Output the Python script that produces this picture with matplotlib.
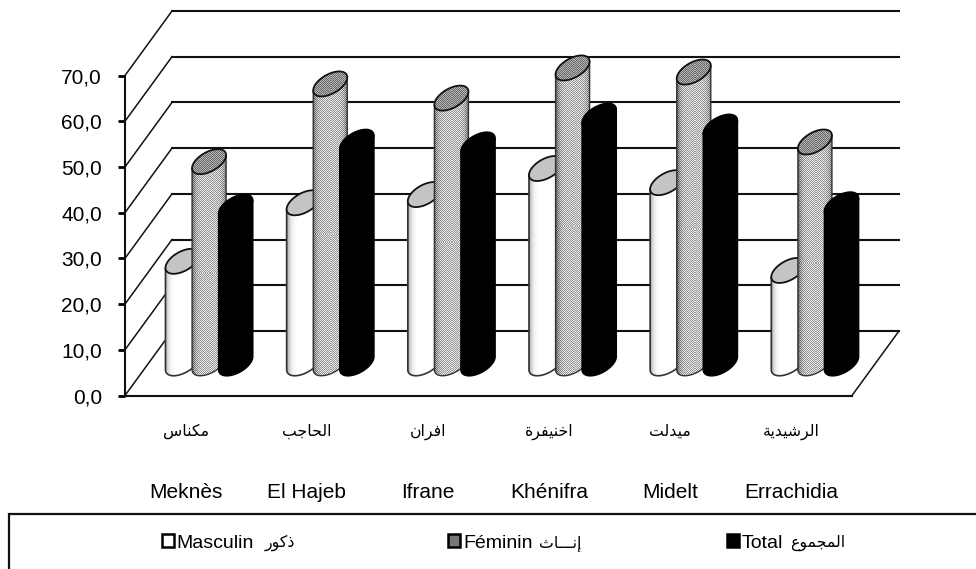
import numpy as np
import matplotlib
matplotlib.use('Agg')
import matplotlib.pyplot as plt
from matplotlib.patches import Patch, PathPatch, Rectangle
from matplotlib.path import Path

cities_fr = ['Meknès', 'El Hajeb', 'Ifrane', 'Khénifra', 'Midelt', 'Errachidia']
cities_ar = ['مكناس', 'الحاجب', 'افران', 'اخنيفرة', 'ميدلت', 'الرشيدية']
masculin = [22.3, 35.1, 36.9, 42.6, 39.5, 20.3]
feminin = [44.1, 61.1, 58.0, 64.6, 63.7, 48.4]
total = [34.2, 48.4, 47.8, 54.1, 51.7, 34.7]
yticks = [0, 10, 20, 30, 40, 50, 60, 70]
legend_fr = ['Masculin', 'Féminin', 'Total']
legend_ar = ['ذكور', 'إنـــاث', 'المجموع']

FONTS = ['Liberation Sans', 'DejaVu Sans']
W, H = 976, 569

# matplotlib does no arabic shaping, so pick the presentation forms by hand
# letter: isolated code, and whether it joins to the following letter
FORMS = {'ا': (0xFE8D, 0), 'إ': (0xFE87, 0), 'ب': (0xFE8F, 1), 'ة': (0xFE93, 0),
         'ت': (0xFE95, 1), 'ث': (0xFE99, 1), 'ج': (0xFE9D, 1), 'ح': (0xFEA1, 1),
         'خ': (0xFEA5, 1), 'د': (0xFEA9, 0), 'ذ': (0xFEAB, 0), 'ر': (0xFEAD, 0),
         'س': (0xFEB1, 1), 'ش': (0xFEB5, 1), 'ع': (0xFEC9, 1), 'ف': (0xFED1, 1),
         'ك': (0xFED9, 1), 'ل': (0xFEDD, 1), 'م': (0xFEE1, 1), 'ن': (0xFEE5, 1),
         'و': (0xFEED, 0), 'ي': (0xFEF1, 1)}


def shape(word):
    out = []
    for i, c in enumerate(word):
        if c not in FORMS:
            out.append(c)
            continue
        code, joins = FORMS[c]
        prev = word[i - 1] if i > 0 else ''
        nxt = word[i + 1] if i < len(word) - 1 else ''
        from_prev = prev == 'ـ' or (prev in FORMS and FORMS[prev][1])
        to_next = joins and (nxt == 'ـ' or nxt in FORMS)
        if from_prev and to_next:
            code += 3
        elif to_next:
            code += 2
        elif from_prev:
            code += 1
        out.append(chr(code))
    return ''.join(out[::-1])


# front frame of the axes, in pixels
LEFT, RIGHT, BOTTOM, TOP = 125, 852, 395.5, 75.5
fig = plt.figure(figsize=(W / 100, H / 100), dpi=100)
ax = fig.add_axes([LEFT / W, 1 - BOTTOM / H, (RIGHT - LEFT) / W, (BOTTOM - TOP) / H])
ax.set_xlim(0, 6)
ax.set_ylim(0, 70)

px = 6 / (RIGHT - LEFT)      # data x per pixel
py = 70 / (BOTTOM - TOP)     # data y per pixel
dx, dy = 47 * px, 64.5 * py  # depth of the floor

# walls
for v in yticks:
    ax.plot([dx, 6 + dx], [v + dy, v + dy], color='#111111', lw=1.5, clip_on=False, zorder=1)
    ax.plot([0, dx], [v, v + dy], color='#111111', lw=1.1, clip_on=False, zorder=1)
ax.plot([6, 6 + dx], [0, dy], color='#111111', lw=1.1, clip_on=False, zorder=1)


def stripes(nx, ny, light, dark, edge):
    # fine diagonal dither, darker towards the sides
    jj, ii = np.meshgrid(np.arange(nx), np.arange(ny))
    img = np.where((ii + jj) % 2 == 0, dark, light).astype(float)
    img[(ii - jj) % 5 == 0] -= 0.05
    side = np.abs(np.linspace(-1, 1, nx)) ** 5
    return np.clip(img - edge * side, 0, 1)


def textured(path, img, extent, ec, lw):
    im = ax.imshow(img, extent=extent, cmap='gray', vmin=0, vmax=1, aspect='auto',
                   interpolation='nearest', zorder=5)
    patch = PathPatch(path, fc='none', ec=ec, lw=lw, zorder=5, clip_on=False)
    ax.add_patch(patch)
    # images stop at the axes box unless told otherwise
    im.set_clip_box(fig.bbox)
    im.set_clip_path(patch)


def cylinder(xc, value, kind):
    base = dy / 2
    top = base + value
    t = np.linspace(0, 2 * np.pi, 121)
    a = 14.5 * px
    b = 8.9 * px
    c = 12.5 * py
    ex = xc + a * np.cos(t) + b * np.sin(t)
    ey = c * np.sin(t)
    # silhouette points of the sheared circle
    tr = np.arctan2(b, a)
    half = np.hypot(a, b)
    s = np.linspace(tr, tr - np.pi, 61)
    low_x = xc + a * np.cos(s) + b * np.sin(s)
    low_y = base + c * np.sin(s)
    verts = np.vstack([[xc - half, top - c * np.sin(tr)],
                       [xc + half, top + c * np.sin(tr)],
                       np.column_stack([low_x, low_y]),
                       [[xc - half, top - c * np.sin(tr)]]])
    body = Path(verts, closed=True)
    cap = Path(np.column_stack([ex, top + ey]), closed=True)
    extent = [xc - half, xc + half, 0, top + c]
    if kind == 'total':
        ax.add_patch(PathPatch(body, fc='black', ec='black', lw=1.2, zorder=5, clip_on=False))
        ax.add_patch(PathPatch(cap, fc='black', ec='black', lw=1.2, zorder=5, clip_on=False))
    elif kind == 'masculin':
        shade = np.abs(np.linspace(-1, 1, 34)) ** 5
        textured(body, np.tile(1 - 0.35 * shade, (2, 1)), extent, '#333333', 1.2)
        ax.add_patch(PathPatch(cap, fc='#c4c4c4', ec='#111111', lw=1.3, zorder=5, clip_on=False))
    else:
        img = stripes(34, int((top + c) / py), 0.92, 0.60, 0.32)
        textured(body, img, extent, '#333333', 1.0)
        cap_img = stripes(34, 25, 0.72, 0.42, 0.0)
        cap_ext = [xc - half, xc + half, top - c, top + c]
        textured(cap, cap_img, cap_ext, '#111111', 1.3)


for i in range(6):
    xc = i + 0.5 + dx / 2
    cylinder(xc - 26.6 * px, masculin[i], 'masculin')
    cylinder(xc, feminin[i], 'feminin')
    cylinder(xc + 26.6 * px, total[i], 'total')
ax.set_xlim(0, 6)
ax.set_ylim(0, 70)

for s in ['top', 'right']:
    ax.spines[s].set_visible(False)
for s in ['left', 'bottom']:
    ax.spines[s].set_linewidth(1.5)
    ax.spines[s].set_color('#111111')
    ax.spines[s].set_zorder(2)

ax.set_yticks(yticks)
ax.set_yticklabels(['%d,0' % v for v in yticks], fontsize=15, family=FONTS)
ax.tick_params(axis='y', length=5, width=2, pad=11.5)
ax.set_xticks(np.arange(6) + 0.5)
ax.set_xticklabels([shape(c) for c in cities_ar], fontsize=11.3, family=FONTS)
ax.tick_params(axis='x', length=0, pad=20)

# latin names sit on a second row, lower down
for i, name in enumerate(cities_fr):
    ax.annotate(name, xy=(i + 0.5, 0), xytext=(0, -97.5 * 0.72),
                textcoords='offset points', ha='center', va='center',
                fontsize=15, family=FONTS, annotation_clip=False)

# legend box runs off the right edge of the figure
fig.add_artist(Rectangle((9 / W, -0.05), 1.1, 0.05 + 1 - 514 / H, fc='white', ec='#111111',
                         lw=1.6, transform=fig.transFigure))
handles = [Patch(fc='white', ec='black', lw=1.8),
           Patch(fc='#777777', ec='black', lw=1.8),
           Patch(fc='black', ec='black', lw=1.8)]
fig.legend(handles, legend_fr, ncol=3, frameon=False, loc='center left',
           bbox_to_anchor=(162 / W, 1 - 543 / H),
           prop={'family': FONTS, 'size': 14}, borderpad=0, borderaxespad=0,
           handlelength=0.6, handleheight=0.6, handletextpad=0.15, columnspacing=10.0)
# the arabic part of each entry is set smaller than the latin part
legend_ar_x = [265, 539, 790]
for x, word in zip(legend_ar_x, legend_ar):
    fig.text(x / W, 1 - 543 / H, shape(word), ha='left', va='center', fontsize=11.3, family=FONTS)

fig.savefig('out.png', dpi=100)
